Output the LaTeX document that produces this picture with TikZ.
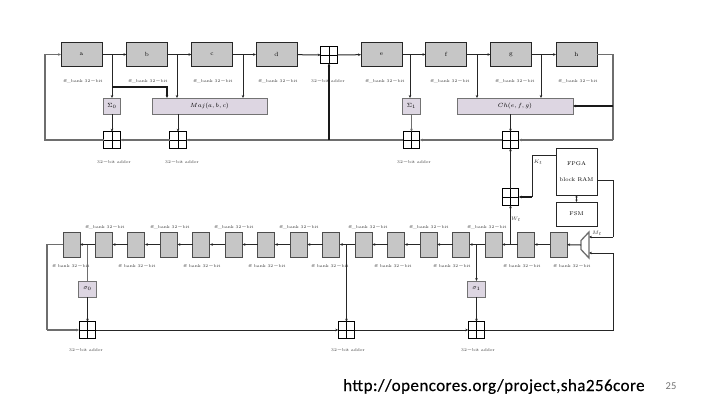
\documentclass[tikz,border=0pt]{standalone}
\usepackage{fontspec}
\newfontfamily\carlito[LetterSpace=2.6,FakeBold=0.4]{Carlito}
\newfontfamily\carlitoplain{Carlito}
\usetikzlibrary{arrows.meta,calc}
\definecolor{regfill}{HTML}{C6C6C6}
\definecolor{fnfill}{HTML}{DDD6E2}
\definecolor{wiregray}{HTML}{6E6E6E}
\tikzset{
  boxbase/.style={draw=black!85,line width=1pt,inner sep=0pt,outer sep=0pt,font=\fontsize{6}{7}\selectfont},
  regtop/.style={boxbase,fill=regfill,minimum width=41pt,minimum height=24pt},
  regbot/.style={boxbase,fill=regfill,minimum width=17pt,minimum height=25pt,draw=black!70},
  sigmabox/.style={boxbase,fill=fnfill,draw=black!55,minimum width=17.5pt,minimum height=16pt},
  fnbox/.style={boxbase,fill=fnfill,draw=black!55,minimum height=16pt},
  plainbox/.style={boxbase,fill=white,minimum width=41pt},
  adder/.style={draw=black,line width=.8pt,minimum size=16.5pt,inner sep=0pt,outer sep=0pt,
    path picture={\draw[line width=.8pt] (path picture bounding box.north)--(path picture bounding box.south)
      (path picture bounding box.west)--(path picture bounding box.east);}},
  lab/.style={font=\fontsize{4.1}{5}\selectfont,inner sep=0pt,text=black!80},
  wire/.style={line width=1pt,draw=black!85},
  heavy/.style={line width=1.4pt,draw=black!90},
  gwire/.style={line width=1.3pt,draw=wiregray},
  tip/.style={-{Stealth[length=3pt,width=2.6pt]}},
}
\begin{document}
\begin{tikzpicture}[x=1pt,y=-1pt]
\useasboundingbox (0,0) rectangle (720,405);
% top registers
\foreach \n/\t/\x in {a/a/81.5,b/b/147,c/c/212,d/d/276.5,e/e/381.5,f/f/446,g/g/511,h/h/576.5}
  \node[regtop] (\n) at (\x,54.5) {\t};
\foreach \n/\x in {la/83,lb/148,lc/213,ld/278,le/385,lf/450,lg/515,lh/578}
  \node[lab] (\n) at (\x,81) {ff\_bank 32$-$bit};
\node[lab] (lsum) at (328,81) {32$-$bit adder};
\node[adder] (sum) at (329,55) {};
\node[sigmabox] (S0) at (112,106) {$\Sigma_0$};
\node[fnbox,minimum width=115pt] (maj) at (209.5,106) {$Maj(a,b,c)$};
\node[sigmabox] (S1) at (411.5,106) {$\Sigma_1$};
\node[fnbox,minimum width=116pt] (ch) at (515,106) {$Ch(e,f,g)$};
\node[adder] (A0) at (112,140) {};
\node[adder] (A1) at (178,140) {};
\node[adder] (A2) at (411.5,140) {};
\node[adder] (A3) at (510.5,140) {};
\node[lab] (lA0) at (114,162) {32$-$bit adder};
\node[lab] (lA1) at (182,162) {32$-$bit adder};
\node[lab] (lA2) at (414,162) {32$-$bit adder};
\node[adder] (A4) at (510.5,197) {};
\node[plainbox,minimum height=47pt,font=\fontsize{5.5}{13}\selectfont,align=center] (ram) at (576.5,171.5) {FPGA\\[3pt]block RAM};
\node[plainbox,minimum height=24pt,font=\fontsize{5.5}{6}\selectfont] (fsm) at (576.5,214) {FSM};
\node[lab,font=\fontsize{5.5}{6}\selectfont] (kt) at (538,162) {$K_t$};
\node[lab,font=\fontsize{5.5}{6}\selectfont] (wt) at (516,219) {$W_t$};
\node[lab,font=\fontsize{5.5}{6}\selectfont] (mt) at (597,233) {$M_t$};
% bottom registers
\foreach \i [evaluate=\i as \x using {71.5+32.47*(\i-1)}] in {1,...,16}
  \node[regbot] (r\i) at (\x,244.5) {};
\foreach \i/\x in {1/105,2/170,3/234,4/299,5/368,6/429,7/487}
  \node[lab] (u\i) at (\x,227) {ff\_bank 32$-$bit};
\foreach \i/\x in {1/71,2/137,3/202,4/267,5/330,6/393,7/452,8/522,9/572}
  \node[lab] (v\i) at (\x,266) {ff bank 32$-$bit};
\node[sigmabox] (s0) at (87.5,289) {$\sigma_0$};
\node[sigmabox] (s1) at (476.5,289) {$\sigma_1$};
\node[adder] (B0) at (87.5,330) {};
\node[adder] (B1) at (346.5,330) {};
\node[adder] (B2) at (476.5,330) {};
\node[lab] (lB0) at (86,350) {32$-$bit adder};
\node[lab] (lB1) at (348,350) {32$-$bit adder};
\node[lab] (lB2) at (478,350) {32$-$bit adder};
\coordinate (mA) at (581,240.5);\coordinate (mB) at (581,249.5);
\coordinate (mC) at (589,232);\coordinate (mD) at (589,258);
\coordinate (mI1) at (589,237);\coordinate (mI2) at (589,253);\coordinate (mO) at (581,245);
\draw[gwire] (mC)--(mA)--(mB)--(mD)--cycle;
% top row connectors
\foreach \p/\q in {a/b,b/c,c/d,e/f,f/g,g/h}
  \draw[wire,tip] (\p)--(\q);
\draw[wire,tip] (d)--(sum);
\draw[wire,tip] (sum)--(e);
\coordinate (xa) at (112,54.5);
\draw[wire,tip] (xa)--(S0);
\draw[wire,tip] (S0)--(A0);
\coordinate (bus) at (112,87);\coordinate (bm) at (167,98);
\draw[heavy,tip] (bus)-|(bm);
\coordinate (xb) at (177,54.5);\coordinate (mb) at (177,98);
\draw[wire,tip] (xb)--(mb);
\coordinate (xc) at (243,54.5);\coordinate (mc) at (243,98);
\draw[wire,tip] (xc)--(mc);
\draw[wire,tip] (maj.south -| A1)--(A1);
\coordinate (xe) at (410,54.5);
\draw[wire,tip] (xe)--(xe|-S1.north);
\draw[gwire,tip,line width=.6pt] (S1)--(A2);
\coordinate (xf) at (477,54.5);\draw[wire,tip] (xf)--(xf|-ch.north);
\coordinate (xg) at (541,54.5);\draw[wire,tip] (xg)--(xg|-ch.north);
\draw[wire,tip] (ch.south-|A3)--(A3);
% feedback
\coordinate (rr) at (613,54.5);\coordinate (rb) at (613,140);\coordinate (jn) at (329,140);\coordinate (ll) at (45,140);\coordinate (lt) at (45,54.5);
\draw[gwire] (h)--(rr)--(rb);
\draw[gwire,tip] (rb)--(A3);
\draw[gwire,tip] (A3)--(A2);
\draw[gwire] (A2)--(jn);
\draw[gwire,tip] (jn)--(A1);
\draw[gwire,tip] (A1)--(A0);
\draw[gwire,tip] (A0)--(ll)--(lt)--(a);
\draw[heavy,tip] (jn)--(sum);
\draw[heavy,tip] (rr|-ch)--(ch);
% message schedule path
\draw[wire,tip] (A4)--(A3);
\coordinate (kc) at (532,155);\coordinate (kd) at (532,197);
\draw[wire] (ram.west|-kc)--(kc)--(kd);
\draw[heavy,tip] (kd)--(A4);
\draw[wire,{Stealth[length=2.5pt,width=2.2pt]}-{Stealth[length=2.5pt,width=2.2pt]}] (ram)--(fsm);
\coordinate (rm) at (613,180);\coordinate (rn) at (613,237);
\draw[wire] (ram.east|-rm)--(rm)--(rn);
\draw[wire,tip] (rn)--(mI1);
\draw[wire,tip] (mO)--(r16);
\foreach \i [evaluate=\i as \j using int(\i-1)] in {2,...,16}
  \draw[wire,line width=1.2pt,tip] (r\i)--(r\j);
\coordinate (w) at (510.5,244.5);
\draw[wire,tip] (w)--(A4);
\coordinate (j1) at (87.5,244.5);\coordinate (j2) at (346.5,244.5);\coordinate (j3) at (476.5,244.5);
\draw[gwire] (j1)--(s0);
\draw[wire,tip] (s0)--(B0);
\draw[wire,tip] (j2)--(B1);
\draw[wire,tip] (j3)--(s1);
\draw[wire,tip] (s1)--(B2);
\coordinate (l1) at (47,244.5);\coordinate (l2) at (47,330);
\draw[gwire] (r1)--(l1)--(l2);
\draw[gwire,tip] (l2)--(B0);
\draw[wire,tip] (B0)--(B1);
\draw[wire,tip] (B1)--(B2);
\coordinate (r3) at (613,330);\coordinate (r4) at (613,253);
\draw[wire] (B2)--(r3)--(r4);
\draw[wire,tip] (r4)--(mI2);
% footer
\node[font=\carlito\fontsize{17}{18}\selectfont,inner sep=0pt,anchor=base west] (url) at (343,391) {http://opencores.org/project,sha256core};
\node[font=\carlitoplain\fontsize{10.5}{12}\selectfont,text=black!55,inner sep=0pt] (pg) at (671,386) {25};
\end{tikzpicture}
\end{document}
